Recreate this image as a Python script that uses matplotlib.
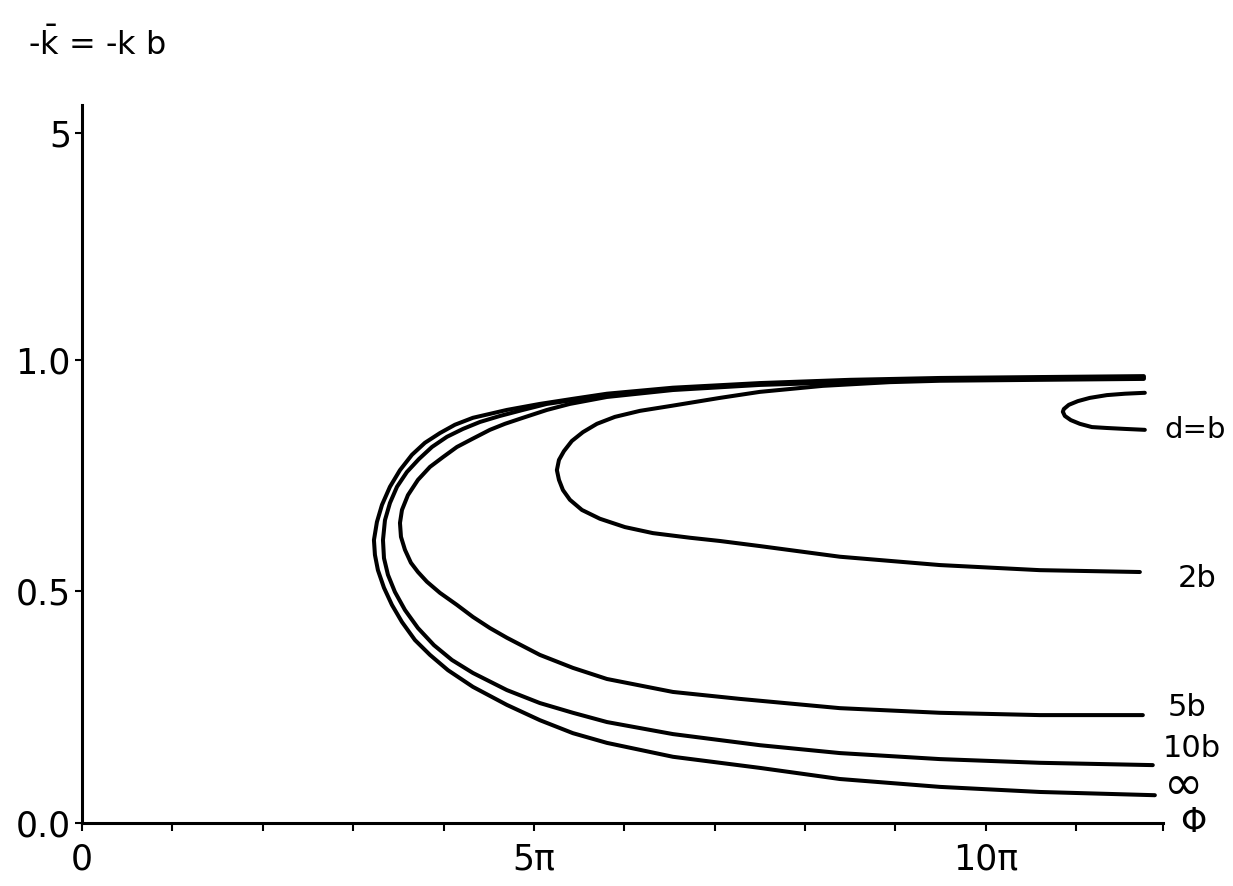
import numpy as np
import matplotlib.pyplot as plt

# curves: phase in units of pi, k values (-k*b)
# each list runs from the upper right end, round the nose, to the lower right end
phi_inf = [11.748, 10.60, 9.491, 8.496, 7.500, 6.538, 5.808, 5.431, 5.066, 4.701, 4.325, 4.126,
           3.960, 3.794, 3.650, 3.518, 3.407, 3.319, 3.263, 3.230, 3.241, 3.274, 3.341, 3.429,
           3.540, 3.684, 3.850, 4.049, 4.325, 4.701, 5.066, 5.431, 5.808, 6.538, 7.500, 8.385,
           9.491, 10.60, 11.87]
k_inf = [0.965, 0.963, 0.961, 0.957, 0.950, 0.940, 0.927, 0.916, 0.905, 0.892, 0.875, 0.860,
         0.842, 0.821, 0.795, 0.762, 0.726, 0.687, 0.650, 0.611, 0.579, 0.546, 0.508, 0.471,
         0.434, 0.395, 0.363, 0.330, 0.294, 0.255, 0.222, 0.194, 0.173, 0.143, 0.119, 0.095,
         0.078, 0.067, 0.060]

phi_10b = [11.748, 10.597, 9.491, 8.496, 7.500, 6.538, 5.808, 5.144, 4.878, 4.624, 4.403, 4.215,
           4.038, 3.872, 3.728, 3.595, 3.485, 3.407, 3.352, 3.330, 3.341, 3.385, 3.462, 3.573,
           3.717, 3.894, 4.093, 4.325, 4.701, 5.066, 5.431, 5.808, 6.538, 7.500, 8.385, 9.491,
           10.597, 11.847]
k_10b = [0.963, 0.961, 0.959, 0.955, 0.948, 0.937, 0.924, 0.905, 0.892, 0.879, 0.866, 0.851,
         0.834, 0.812, 0.786, 0.758, 0.726, 0.691, 0.654, 0.611, 0.572, 0.536, 0.499, 0.460,
         0.421, 0.384, 0.352, 0.324, 0.287, 0.259, 0.238, 0.218, 0.192, 0.168, 0.151, 0.138,
         0.130, 0.125]

phi_5b = [11.748, 10.597, 9.491, 8.496, 7.500, 6.538, 5.808, 5.398, 5.144, 4.878, 4.679, 4.513,
          4.314, 4.148, 3.993, 3.850, 3.717, 3.606, 3.540, 3.518, 3.529, 3.573, 3.639, 3.717,
          3.816, 3.960, 4.148, 4.325, 4.513, 4.701, 5.066, 5.431, 5.808, 6.538, 7.279, 8.385,
          9.491, 10.597, 11.737]
k_5b = [0.961, 0.959, 0.957, 0.952, 0.946, 0.935, 0.920, 0.905, 0.892, 0.875, 0.862, 0.849,
        0.829, 0.812, 0.790, 0.769, 0.741, 0.708, 0.676, 0.648, 0.618, 0.590, 0.562, 0.542,
        0.521, 0.497, 0.471, 0.445, 0.421, 0.400, 0.363, 0.335, 0.311, 0.283, 0.268, 0.248,
        0.238, 0.233, 0.233]

phi_2b = [11.748, 10.597, 9.491, 8.938, 8.197, 7.500, 7.058, 6.527, 6.173, 5.896, 5.697, 5.542,
          5.420, 5.332, 5.277, 5.254, 5.277, 5.321, 5.398, 5.531, 5.730, 6.007, 6.316, 6.726,
          7.058, 7.500, 8.385, 9.491, 10.597, 11.704]
k_2b = [0.959, 0.957, 0.955, 0.952, 0.944, 0.931, 0.918, 0.901, 0.890, 0.877, 0.862, 0.844,
        0.825, 0.803, 0.784, 0.762, 0.741, 0.719, 0.698, 0.676, 0.657, 0.639, 0.626, 0.616,
        0.609, 0.598, 0.575, 0.557, 0.546, 0.542]

phi_1b = [11.759, 11.538, 11.339, 11.150, 11.018, 10.918, 10.863, 10.852, 10.874, 10.940,
          11.040, 11.173, 11.339, 11.538, 11.759]
k_1b = [0.929, 0.927, 0.924, 0.918, 0.911, 0.903, 0.894, 0.888, 0.879, 0.870,
        0.862, 0.855, 0.853, 0.851, 0.849]

curve_labels = ['d=b', '2b', '5b', '10b', '∞']
label_pos = [(11.98, 0.849), (12.12, 0.529), (12.01, 0.250), (11.96, 0.160), (11.97, 0.078)]
label_size = [21, 22, 22, 22, 34]

ytick_vals = [0.0, 0.5, 1.0, 5.0]
ytick_text = ['0.0', '0.5', '1.0', '5']
xtick_vals = [0, 5, 10]
xtick_text = ['0', '5π', '10π']

# y axis: linear up to 1, compressed above
squeeze = 0.1226


def fwd(y):
    y = np.asarray(y, dtype=float)
    return np.where(y <= 1, y, 1 + (y - 1) * squeeze)


def inv(t):
    t = np.asarray(t, dtype=float)
    return np.where(t <= 1, t, 1 + (t - 1) / squeeze)


plt.rcParams['font.family'] = 'DejaVu Sans'
plt.rcParams['mathtext.fontset'] = 'dejavusans'
fig = plt.figure(figsize=(12.33, 8.86), dpi=100)
ax = fig.add_axes([82 / 1233, 63 / 886, (1163 - 82) / 1233, (823 - 105) / 886])

for xs, ks in [(phi_inf, k_inf), (phi_10b, k_10b), (phi_5b, k_5b), (phi_2b, k_2b), (phi_1b, k_1b)]:
    ax.plot(xs, ks, color='black', lw=2.9, solid_capstyle='round', solid_joinstyle='round')

ax.set_yscale('function', functions=(fwd, inv))
ax.set_xlim(0, 11.96)
ax.set_ylim(0, 5.49)

for s in ['top', 'right']:
    ax.spines[s].set_visible(False)
for s in ['left', 'bottom']:
    ax.spines[s].set_linewidth(2.2)

ax.set_xticks(xtick_vals)
ax.set_xticklabels(xtick_text)
ax.set_xticks(list(range(1, 12)) + [11.96], minor=True)
ax.set_yticks(ytick_vals)
ax.set_yticklabels(ytick_text)
ax.yaxis.set_minor_locator(plt.NullLocator())
ax.tick_params(axis='x', which='both', direction='out', length=6, width=1.5, pad=8, labelsize=25)
ax.tick_params(axis='y', which='major', direction='out', length=5, width=1.5, pad=3, labelsize=25)

for txt, (lx, ly), fs in zip(curve_labels, label_pos, label_size):
    ax.text(lx, ly, txt, fontsize=fs, ha='left', va='center', clip_on=False)
ax.text(12.15, 0.0, 'Φ', fontsize=24, ha='left', va='center', clip_on=False)

fig.text(28 / 1233, 1 - 45 / 886, r'-$\bar{\mathrm{k}}$ = -k b', fontsize=23, ha='left', va='center')

fig.savefig('out.png', dpi=100)
